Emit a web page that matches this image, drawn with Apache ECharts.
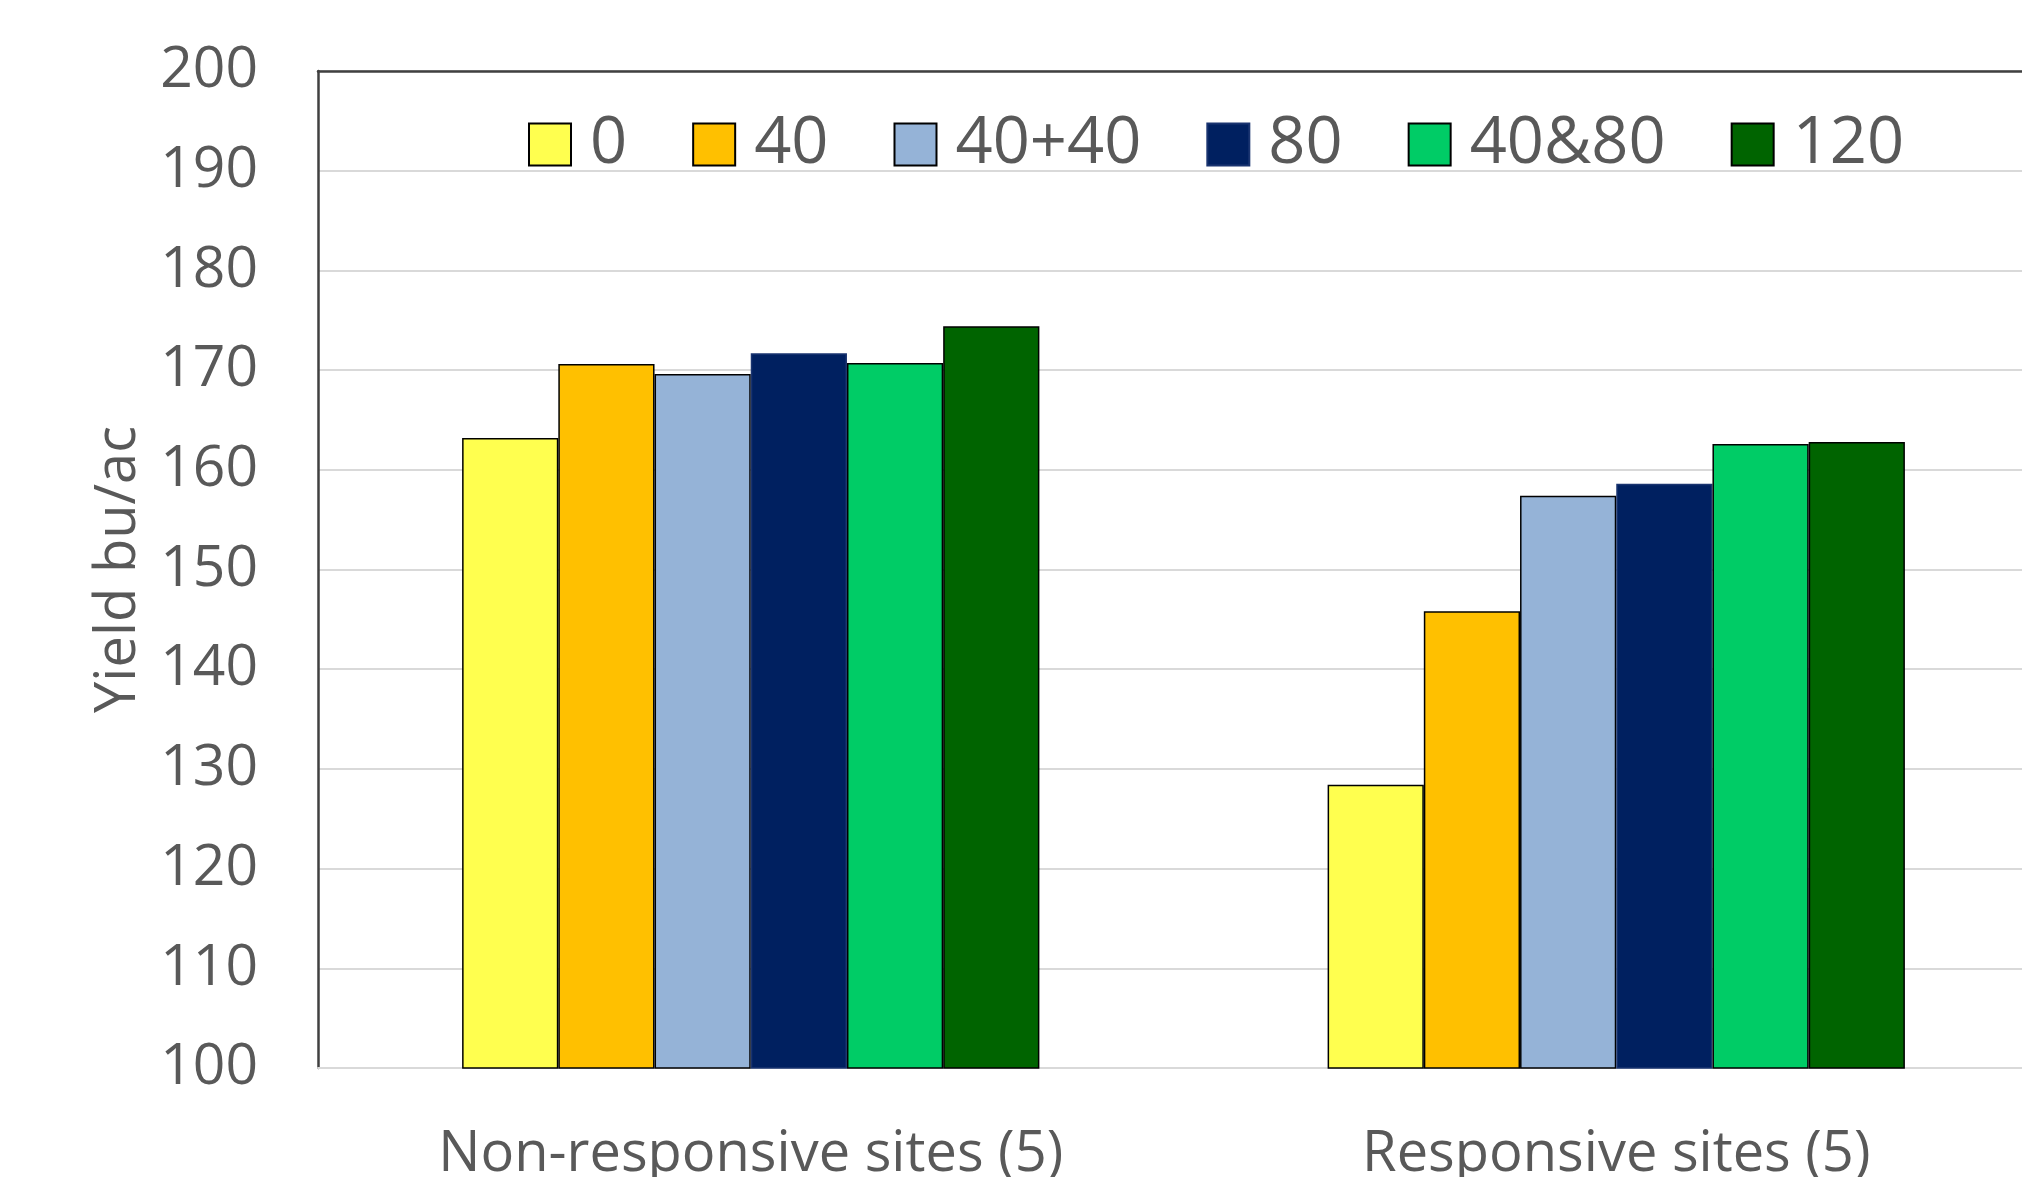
<!DOCTYPE html>
<html>
<head>
<meta charset="utf-8">
<script src="https://cdn.jsdelivr.net/npm/echarts@6/dist/echarts.min.js"></script>
<style>
  html, body { margin: 0; padding: 0; background: #ffffff; }
  #chart { width: 2022px; height: 1177px; }
</style>
</head>
<body>
<div id="chart"></div>
<script>
// Site groups along the x axis
const categories = ['Non-responsive sites (5)', 'Responsive sites (5)'];

// N rate treatments (legend names)
const treatments = ['0', '40', '40+40', '80', '40&80', '120'];

// Mean yield (bu/ac) per treatment, one value per site group
const yield0     = [163.2, 128.4];
const yield40    = [170.6, 145.8];
const yield40p40 = [169.6, 157.4];
const yield80    = [171.7, 158.6];
const yield40n80 = [170.7, 162.6];
const yield120   = [174.4, 162.8];

const seriesValues = [yield0, yield40, yield40p40, yield80, yield40n80, yield120];
const seriesColors = ['#FFFF4F', '#FFC000', '#95B3D7', '#002060', '#00CC66', '#006400'];

const FONT = '"Open Sans", "Noto Sans", sans-serif';
const TEXT = '#595959';

const chart = echarts.init(document.getElementById('chart'), null, { renderer: 'canvas' });

chart.setOption({
  backgroundColor: '#ffffff',
  animation: false,
  // plot area runs a little past the right edge of the canvas
  grid: {
    left: 318, top: 71, right: -27, bottom: 109,
    containLabel: false,
    outerBoundsMode: 'none'
  },
  legend: {
    data: treatments,
    left: 523,
    top: 107,
    itemWidth: 42,
    itemHeight: 42,
    itemGap: 65,
    icon: 'rect',
    textStyle: { fontFamily: FONT, fontSize: 65, color: TEXT, padding: [0, 0, 0, 14] }
  },
  xAxis: [
    {
      type: 'category',
      data: categories,
      axisTick: { show: false },
      axisLine: { show: true, lineStyle: { color: '#d9d9d9', width: 2 } },
      axisLabel: { fontFamily: FONT, fontSize: 56, color: TEXT, margin: 59 },
      splitLine: { show: false }
    },
    {
      type: 'category',
      position: 'top',
      data: categories,
      axisTick: { show: false },
      axisLabel: { show: false },
      axisLine: { show: true, lineStyle: { color: '#404040', width: 2.5 } }
    }
  ],
  yAxis: {
    type: 'value',
    min: 100,
    max: 200,
    interval: 10,
    name: 'Yield bu/ac',
    nameLocation: 'middle',
    nameGap: 171,
    nameRotate: 90,
    nameTextStyle: { fontFamily: FONT, fontSize: 56, color: TEXT },
    axisLine: { show: true, lineStyle: { color: '#404040', width: 2.5 } },
    axisTick: { show: false },
    axisLabel: { fontFamily: FONT, fontSize: 57, color: TEXT, margin: 60 },
    splitLine: { show: true, lineStyle: { color: '#d9d9d9', width: 2 } }
  },
  series: treatments.map((name, i) => ({
    name: name,
    type: 'bar',
    xAxisIndex: 0,
    data: seriesValues[i],
    barGap: '0%',
    barCategoryGap: '33.3%',
    itemStyle: {
      color: seriesColors[i],
      borderColor: i === 3 ? '#1a3470' : '#000000',
      borderWidth: 1.5
    }
  }))
});
</script>
</body>
</html>
